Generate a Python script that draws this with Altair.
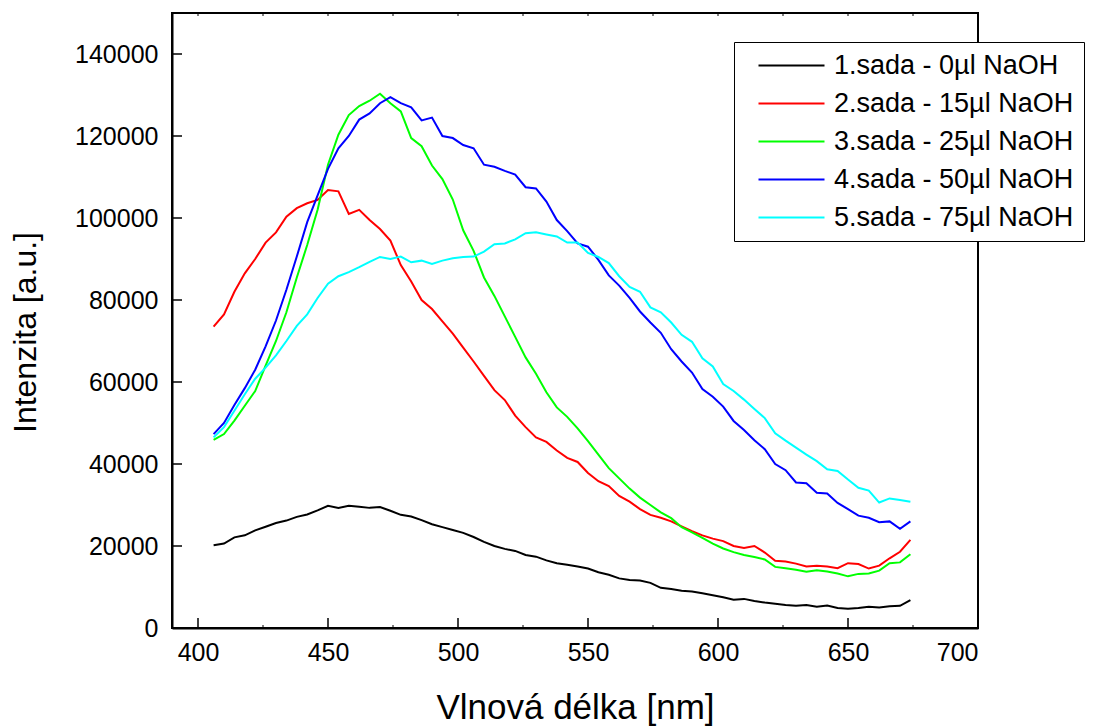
import altair as alt
import pandas as pd

wavelength = [406, 410, 414, 418, 422, 426, 430, 434, 438, 442, 446, 450, 454, 458, 462, 466,
              470, 474, 478, 482, 486, 490, 494, 498, 502, 506, 510, 514, 518, 522, 526, 530,
              534, 538, 542, 546, 550, 554, 558, 562, 566, 570, 574, 578, 582, 586, 590, 594,
              598, 602, 606, 610, 614, 618, 622, 626, 630, 634, 638, 642, 646, 650, 654, 658,
              662, 666, 670, 674]

sada1 = [20.2, 20.6, 22.1, 22.6, 23.8, 24.7, 25.6, 26.2, 27.1, 27.7, 28.7, 29.8, 29.3, 29.8, 29.6, 29.3,
         29.5, 28.6, 27.6, 27.2, 26.3, 25.3, 24.6, 23.9, 23.2, 22.2, 21.0, 20.0, 19.3, 18.8, 17.8, 17.4,
         16.5, 15.8, 15.4, 15.0, 14.5, 13.6, 13.0, 12.1, 11.7, 11.6, 11.0, 9.8, 9.5, 9.1, 8.9, 8.5,
         8.0, 7.5, 6.9, 7.1, 6.6, 6.2, 5.9, 5.6, 5.4, 5.6, 5.2, 5.5, 4.9, 4.7, 4.9, 5.2,
         5.0, 5.3, 5.4, 6.8]

sada2 = [73.5, 76.5, 82.0, 86.5, 90.0, 94.0, 96.5, 100.3, 102.4, 103.6, 104.4, 106.8, 106.5, 101.0, 102.0, 99.5,
         97.3, 94.5, 88.5, 84.5, 80.0, 77.8, 74.8, 71.8, 68.4, 65.0, 61.5, 58.0, 55.6, 51.8, 49.0, 46.5,
         45.4, 43.3, 41.5, 40.5, 37.8, 35.8, 34.6, 32.2, 30.8, 29.0, 27.6, 26.9, 26.0, 24.8, 23.6, 22.6,
         21.8, 21.2, 20.0, 19.5, 20.0, 18.4, 16.4, 16.2, 15.7, 15.0, 15.2, 15.0, 14.6, 15.8, 15.6, 14.5,
         15.2, 17.0, 18.6, 21.5]

sada3 = [45.9, 47.3, 50.6, 54.2, 57.8, 64.0, 70.0, 77.0, 85.5, 93.4, 102.0, 113.0, 120.3, 125.1, 127.3, 128.6,
         130.3, 128.0, 126.0, 119.5, 117.5, 112.8, 109.5, 104.5, 97.0, 92.0, 85.5, 81.0, 76.0, 71.0, 66.0, 62.0,
         57.5, 53.8, 51.5, 48.7, 45.6, 42.3, 39.0, 36.5, 34.0, 31.8, 30.0, 28.2, 26.8, 24.6, 23.3, 22.0,
         20.6, 19.4, 18.5, 17.8, 17.3, 16.7, 14.9, 14.6, 14.2, 13.7, 14.1, 13.8, 13.3, 12.6, 13.2, 13.3,
         14.0, 15.8, 16.0, 18.0]

sada4 = [47.3, 50.0, 54.4, 58.5, 63.0, 68.7, 75.0, 82.5, 90.6, 99.0, 105.5, 112.0, 117.0, 120.0, 124.0, 125.5,
         128.0, 129.5, 128.0, 127.0, 123.8, 124.5, 120.0, 119.5, 117.8, 117.0, 113.0, 112.5, 111.5, 110.6, 107.5, 107.2,
         104.0, 99.5, 96.8, 93.8, 93.0, 89.8, 86.0, 83.5, 80.5, 77.2, 74.5, 72.0, 68.0, 65.0, 62.3, 58.3,
         56.4, 54.0, 50.5, 48.3, 45.8, 43.6, 40.0, 38.5, 35.5, 35.3, 33.0, 32.8, 30.5, 29.0, 27.4, 26.9,
         25.8, 26.0, 24.2, 26.0]

sada5 = [46.5, 49.0, 53.0, 57.0, 60.8, 63.5, 66.5, 70.0, 73.7, 76.5, 80.5, 84.0, 85.8, 86.8, 88.0, 89.3,
         90.5, 90.0, 90.6, 89.2, 89.6, 88.8, 89.6, 90.2, 90.5, 90.6, 91.8, 93.6, 93.8, 94.8, 96.3, 96.5,
         96.0, 95.5, 94.0, 94.0, 91.5, 90.5, 89.0, 85.8, 83.2, 82.0, 78.2, 77.0, 74.5, 71.5, 69.8, 65.8,
         63.8, 59.5, 57.8, 55.7, 53.4, 51.2, 47.5, 45.7, 44.0, 42.3, 40.7, 38.7, 38.3, 36.2, 34.2, 33.5,
         30.6, 31.6, 31.2, 30.8]

series_names = ["1.sada - 0µl NaOH", "2.sada - 15µl NaOH", "3.sada - 25µl NaOH",
                "4.sada - 50µl NaOH", "5.sada - 75µl NaOH"]
series_colors = ["#000000", "#FF0000", "#00FF00", "#0000FF", "#00FFFF"]

x_ticks = [400, 450, 500, 550, 600, 650, 700]
x_minor = [425, 475, 525, 575, 625, 675]
x_top = [400, 425, 450, 475, 500, 525, 550, 575, 600, 625, 650, 675, 700]
y_ticks = [0, 20000, 40000, 60000, 80000, 100000, 120000, 140000]

rows = []
for name, vals in zip(series_names, [sada1, sada2, sada3, sada4, sada5]):
    for i, (w, v) in enumerate(zip(wavelength, vals)):
        rows.append({"nm": w, "val": v * 1000, "sada": name, "order": i})
df = pd.DataFrame(rows)

W, H = 806, 615
FONT = "Liberation Sans"
xscale = alt.Scale(domain=[390, 700], nice=False, zero=False)
yscale = alt.Scale(domain=[0, 150000], nice=False)

x_axis = alt.Axis(values=x_ticks, title="Vlnová délka [nm]", ticks=False, domain=True,
                  domainColor="black", domainWidth=2, grid=False, labelFontSize=25,
                  labelPadding=12, titleFontSize=35, titlePadding=25, titleFontWeight="normal",
                  format="d", labelColor="black", titleColor="black", labelFont=FONT,
                  titleFont=FONT)
y_axis = alt.Axis(values=y_ticks, title="Intenzita [a.u.]", ticks=False, domain=True,
                  domainColor="black", domainWidth=2, grid=False, labelFontSize=25,
                  labelPadding=14, titleFontSize=32, titlePadding=32, titleFontWeight="normal",
                  titleY=319, format="d", labelColor="black", titleColor="black",
                  labelFont=FONT, titleFont=FONT)

lines = alt.Chart(df).mark_line(strokeWidth=2).encode(
    x=alt.X("nm:Q", scale=xscale, axis=x_axis),
    y=alt.Y("val:Q", scale=yscale, axis=y_axis),
    color=alt.Color("sada:N", scale=alt.Scale(domain=series_names, range=series_colors),
                    legend=alt.Legend(orient="none", legendX=562, legendY=29, title=None,
                                      fillColor="white", strokeColor="black", padding=10,
                                      symbolType="M-6.6,0L6.6,0", symbolSize=100,
                                      symbolStrokeWidth=2, symbolOffset=34, labelOffset=29,
                                      labelFontSize=27, labelFont=FONT, labelColor="black",
                                      rowPadding=10, labelLimit=500)),
    order="order:Q",
)

xt_df = pd.DataFrame({"nm": x_ticks})
xm_df = pd.DataFrame({"nm": x_minor})
xtop_df = pd.DataFrame({"nm": x_top})
yt_df = pd.DataFrame({"val": y_ticks})

bottom_major = alt.Chart(xt_df).mark_rule(color="black", strokeWidth=1.5).encode(
    x=alt.X("nm:Q", scale=xscale), y=alt.value(H), y2=alt.value(H - 10))
bottom_minor = alt.Chart(xm_df).mark_rule(color="black", strokeWidth=1).encode(
    x=alt.X("nm:Q", scale=xscale), y=alt.value(H), y2=alt.value(H - 3))
top_minor = alt.Chart(xtop_df).mark_rule(color="black", strokeWidth=1).encode(
    x=alt.X("nm:Q", scale=xscale), y=alt.value(0), y2=alt.value(3))
left_major = alt.Chart(yt_df).mark_rule(color="black", strokeWidth=1.5).encode(
    y=alt.Y("val:Q", scale=yscale), x=alt.value(0), x2=alt.value(10))

chart = alt.layer(lines, bottom_major, bottom_minor, top_minor, left_major).properties(
    width=W, height=H,
    autosize=alt.AutoSizeParams(type="none"),
    padding={"left": 164, "top": 5, "right": 108, "bottom": 98},
).configure(
    font=FONT
).configure_view(
    stroke="black", strokeWidth=2
)

chart.save("out.html", embed_options={"renderer": "svg", "actions": False})
